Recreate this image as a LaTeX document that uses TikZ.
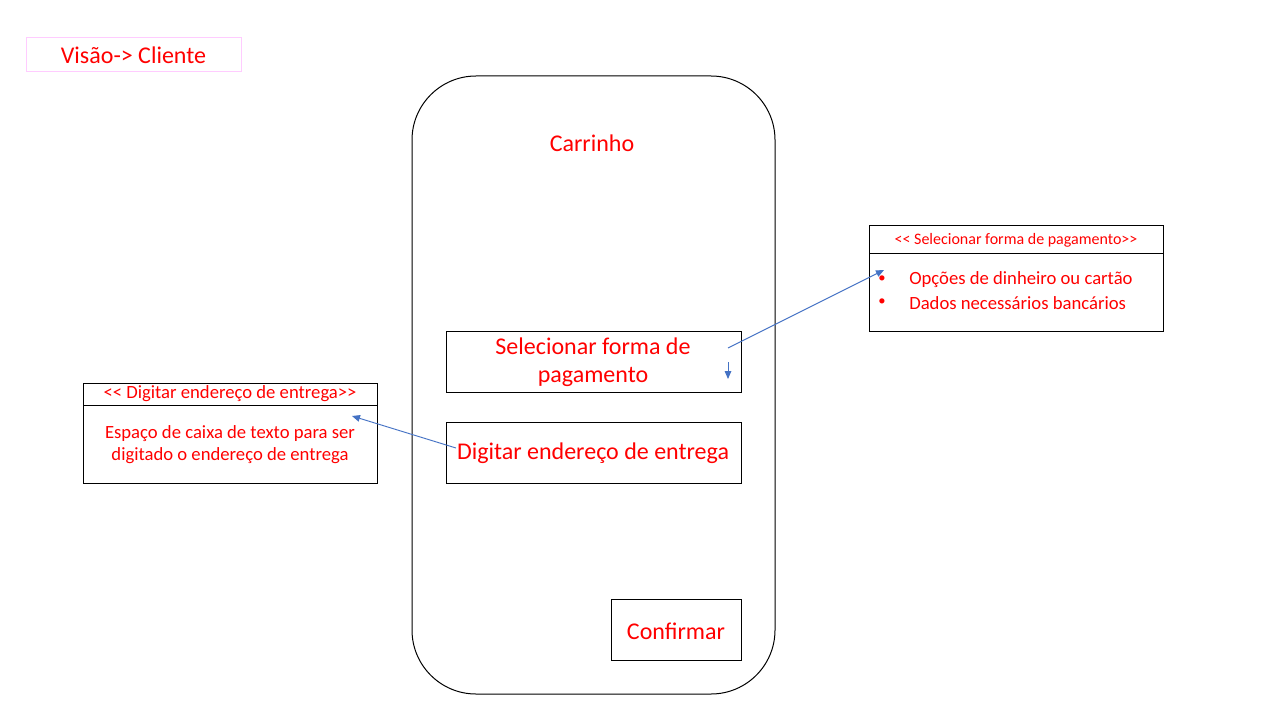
\documentclass[tikz,border=0pt]{standalone}
\usepackage{fontspec}
\setmainfont{Carlito}
\usetikzlibrary{arrows.meta}
\definecolor{txtred}{RGB}{255,0,0}
\definecolor{arrblue}{RGB}{68,114,196}
\definecolor{pinkline}{RGB}{255,204,255}
\tikzset{
  box/.style={draw=black, line width=0.75pt},
  lbl/.style={text=txtred, inner sep=0pt, anchor=center},
  big/.style={lbl, font=\fontsize{18}{21}\selectfont, align=center},
  mid/.style={lbl, font=\fontsize{14}{16.5}\selectfont, align=center},
  small/.style={lbl, font=\fontsize{12}{14}\selectfont},
  bodyr/.style={lbl, font=\fontsize{14}{16}\selectfont},
  bul/.style={lbl, font=\fontsize{11}{13}\selectfont},
  conn/.style={draw=arrblue, line width=0.7pt, -{Triangle[length=6pt,width=5pt]}}
}
\begin{document}
\begin{tikzpicture}[x=0.75pt,y=-0.75pt]
\useasboundingbox (0,0) rectangle (1280,720);
% title
\draw[pinkline, line width=0.75pt] (26,38) rectangle (241,72);
\node[big] (title) at (133.5,55) {Visão-> Cliente};
% phone frame
\draw[box, rounded corners=48pt] (412,76) rectangle (775,694);
\node[big] (cart) at (592,143) {Carrinho};
% inner boxes
\draw[box] (446,331) rectangle (741,392);
\node[big] (sel) at (593,362) {Selecionar forma de\\pagamento};
\draw[box] (446,422) rectangle (741,483);
\node[big] (dig) at (593,453) {Digitar endereço de entrega};
\draw[box] (611,599) rectangle (741,660);
\node[big] (conf) at (676,631) {Confirmar};
% right box
\draw[box] (869,226) rectangle (1163,331);
\draw[box] (869,253) -- (1163,253);
\node[small] (rhead) at (1016,240) {<{}< Selecionar forma de pagamento>{}>};
\node[bul] (b1) at (882,279) {•};
\node[bul] (b2) at (882,302) {•};
\node[bodyr, anchor=west] (r1) at (909,280) {Opções de dinheiro ou cartão};
\node[bodyr, anchor=west] (r2) at (909,303) {Dados necessários bancários};
% left box
\draw[box] (83,383) rectangle (377,483);
\draw[box] (83,405) -- (377,405);
\node[mid] (lhead) at (230,394) {<{}< Digitar endereço de entrega>{}>};
\node[mid] (lbody) at (230,445) {Espaço de caixa de texto para ser\\digitado o endereço de entrega};
% connectors
\coordinate (a1s) at (728,348);
\coordinate (a1e) at (884,270);
\coordinate (a2s) at (728,362);
\coordinate (a2e) at (728,379);
\coordinate (a3s) at (456,448);
\coordinate (a3e) at (352,416);
\draw[conn] (a1s) -- (a1e);
\draw[conn] (a2s) -- (a2e);
\draw[conn] (a3s) -- (a3e);
\end{tikzpicture}
\end{document}
